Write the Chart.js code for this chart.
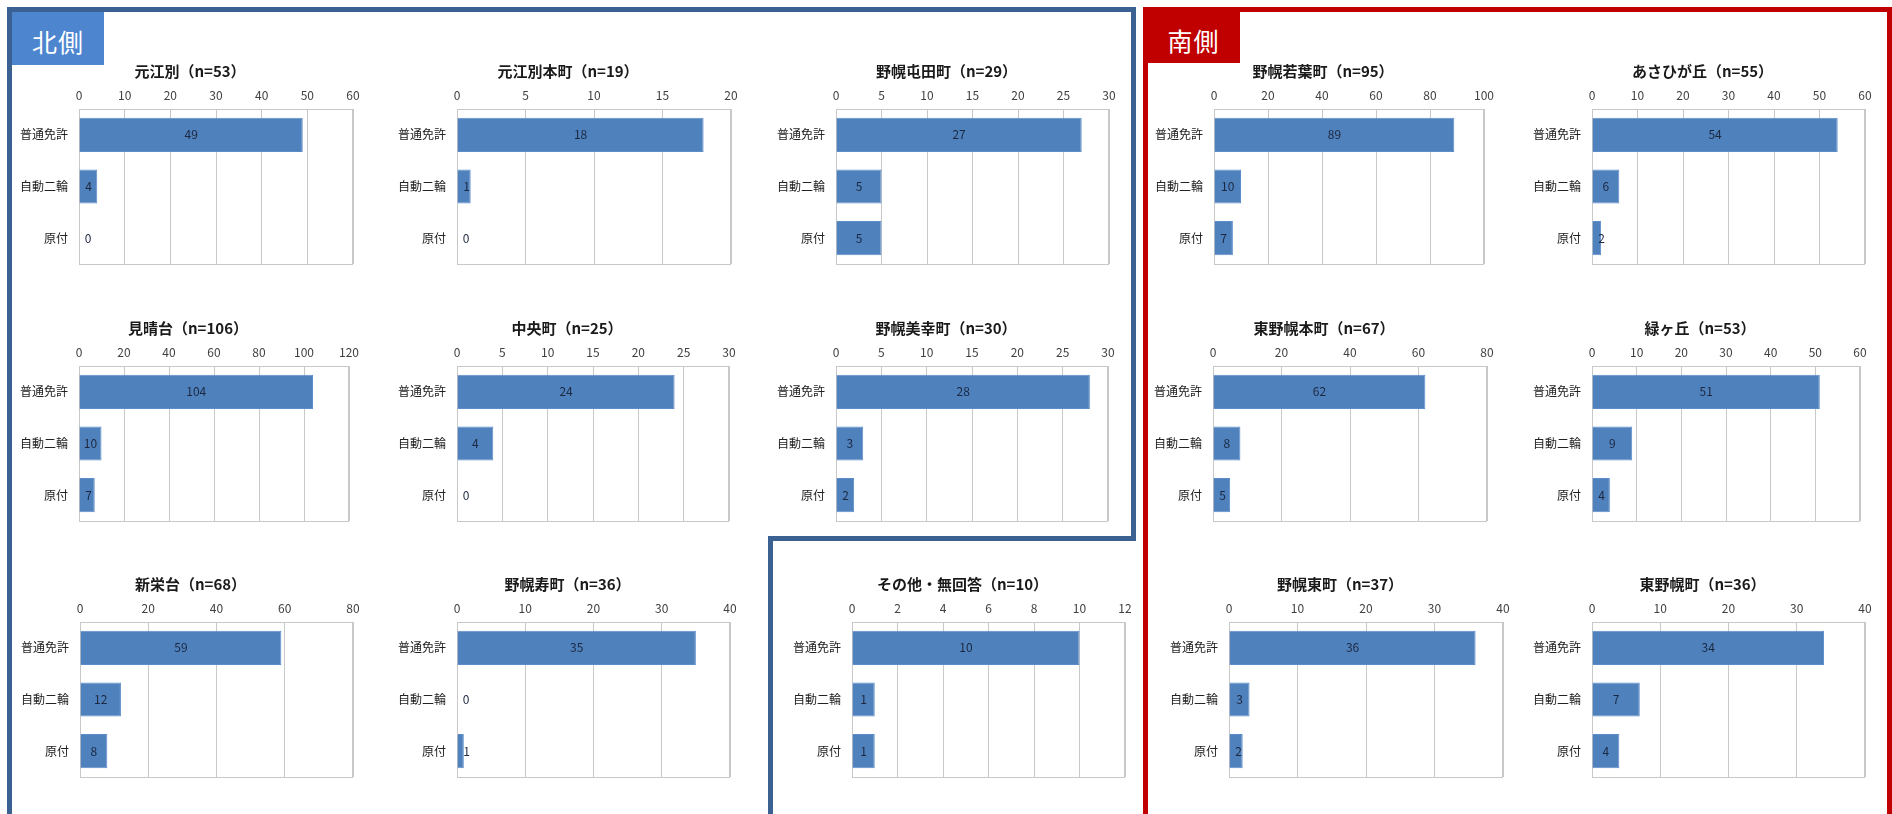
<!DOCTYPE html>
<html>
<head>
<meta charset="utf-8">
<script src="https://cdn.jsdelivr.net/npm/chart.js@4"></script>
<style>
  body { margin: 0; background: #fff; width: 1892px; height: 814px; overflow: hidden; position: relative; font-family: "Noto Sans CJK JP", sans-serif; }
  .seg { position: absolute; }
  .blue { background: #3a6192; }
  .red { background: #c00000; }
  .tag { position: absolute; color: #fff; font-size: 25px; display: flex; justify-content: center; align-items: center; box-sizing: border-box; padding-top: 5px; letter-spacing: 1px; }
  canvas { position: absolute; }
</style>
</head>
<body>
<!-- north frame -->
<div class="seg blue" style="left:7px;top:7px;width:1129px;height:5px"></div>
<div class="seg blue" style="left:7px;top:7px;width:5px;height:807px"></div>
<div class="seg blue" style="left:1131px;top:7px;width:5px;height:534px"></div>
<div class="seg blue" style="left:768px;top:536px;width:368px;height:5px"></div>
<div class="seg blue" style="left:768px;top:536px;width:5px;height:278px"></div>
<div class="tag" style="left:12px;top:12px;width:92px;height:53px;background:#4d85cf">北側</div>
<!-- south frame -->
<div class="seg red" style="left:1143px;top:7px;width:749px;height:5px"></div>
<div class="seg red" style="left:1143px;top:7px;width:5px;height:807px"></div>
<div class="seg red" style="left:1887px;top:7px;width:5px;height:807px"></div>
<div class="tag" style="left:1147px;top:12px;width:93px;height:51px;background:#c00000">南側</div>

<script>
// data
const categories = ['普通免許', '自動二輪', '原付'];
const areaNames = ['元江別', '元江別本町', '野幌屯田町', '野幌若葉町', 'あさひが丘',
                   '見晴台', '中央町', '野幌美幸町', '東野幌本町', '緑ヶ丘',
                   '新栄台', '野幌寿町', 'その他・無回答', '野幌東町', '東野幌町'];
const sampleSizes = [53, 19, 29, 95, 55, 106, 25, 30, 67, 53, 68, 36, 10, 37, 36];
const futsuu = [49, 18, 27, 89, 54, 104, 24, 28, 62, 51, 59, 35, 10, 36, 34];
const nirin = [4, 1, 5, 10, 6, 10, 4, 3, 8, 9, 12, 0, 1, 3, 7];
const gentsuki = [0, 0, 5, 7, 2, 7, 0, 2, 5, 4, 8, 1, 1, 2, 4];
const axisMax = [60, 20, 30, 100, 60, 120, 30, 30, 80, 60, 80, 40, 12, 40, 40];
const axisStep = [10, 5, 5, 20, 10, 20, 5, 5, 20, 10, 20, 10, 2, 10, 10];

// plot area of each chart: [left, top, right]
const plotBoxes = [
  [79, 109, 353], [457, 109, 731], [836, 109, 1109], [1214, 109, 1484], [1592, 109, 1865],
  [79, 366, 349], [457, 366, 729], [836, 366, 1108], [1213, 366, 1487], [1592, 366, 1860],
  [80, 622, 353], [457, 622, 730], [852, 622, 1125], [1229, 622, 1503], [1592, 622, 1865]
];
const plotH = 155;
// room round the plot; bottom must cover the y labels' own padding (~17px)
const yAxisW = 75, topH = 47, padR = 23, padB = 22;

Chart.defaults.font.family = '"Noto Sans CJK JP", sans-serif';

const framePlugin = {
  id: 'frame',
  beforeDatasetsDraw(chart) {
    const a = chart.chartArea, c = chart.ctx;
    c.save();
    c.strokeStyle = '#c8c8c8';
    c.lineWidth = 1;
    c.strokeRect(Math.round(a.left) + 0.5, Math.round(a.top) + 0.5, Math.round(a.right - a.left) - 1, Math.round(a.bottom - a.top));
    c.restore();
  }
};

const valuePlugin = {
  id: 'values',
  afterDatasetsDraw(chart) {
    const c = chart.ctx;
    const ds = chart.data.datasets[0];
    c.save();
    c.font = '12px "Noto Sans CJK JP", sans-serif';
    c.fillStyle = '#1c2840';
    c.textAlign = 'center';
    c.textBaseline = 'middle';
    chart.getDatasetMeta(0).data.forEach((bar, i) => {
      const x = Math.max((bar.base + bar.x) / 2, bar.base + 9);
      c.fillText(String(ds.data[i]), x, bar.y);
    });
    c.restore();
  }
};

plotBoxes.forEach((box, i) => {
  const [l, t, r] = box;
  const cv = document.createElement('canvas');
  const w = (r - l) + yAxisW + padR;
  const h = topH + plotH + padB;
  cv.width = w; cv.height = h;
  cv.style.left = (l - yAxisW) + 'px';
  cv.style.top = (t - topH) + 'px';
  cv.style.width = w + 'px';
  cv.style.height = h + 'px';
  document.body.appendChild(cv);

  new Chart(cv, {
    type: 'bar',
    data: {
      labels: categories,
      datasets: [{
        data: [futsuu[i], nirin[i], gentsuki[i]],
        backgroundColor: '#4f81bd',
        borderColor: '#5d8dc9',
        borderWidth: 1,
        barPercentage: 0.66,
        categoryPercentage: 1
      }]
    },
    options: {
      indexAxis: 'y',
      responsive: false,
      animation: false,
      layout: { padding: { top: 0, right: 0, bottom: padB, left: 0 } },
      plugins: {
        legend: { display: false },
        tooltip: { enabled: false },
        title: {
          display: true,
          text: areaNames[i] + '（n=' + sampleSizes[i] + '）',
          color: '#1a1a1a',
          font: { size: 15, weight: 'bold', lineHeight: 1.2 },
          padding: 0
        }
      },
      scales: {
        x: {
          position: 'top',
          min: 0,
          max: axisMax[i],
          ticks: { stepSize: axisStep[i], color: '#404040', font: { size: 12 }, padding: 6 },
          grid: { color: '#c8c8c8', drawTicks: false },
          border: { display: true, color: '#c8c8c8' },
          afterFit(s) { s.height = topH - 18; }
        },
        y: {
          ticks: { color: '#222', font: { size: 12 }, padding: 11 },
          grid: { display: false, drawTicks: false },
          border: { display: false },
          afterFit(s) { s.width = yAxisW; }
        },
        // empty strip on the right so the title stays centred on the whole canvas
        yRight: {
          type: 'category',
          position: 'right',
          ticks: { display: false },
          grid: { display: false, drawTicks: false },
          border: { display: false },
          afterFit(s) { s.width = padR; }
        }
      }
    },
    plugins: [framePlugin, valuePlugin]
  });
});
</script>
</body>
</html>
